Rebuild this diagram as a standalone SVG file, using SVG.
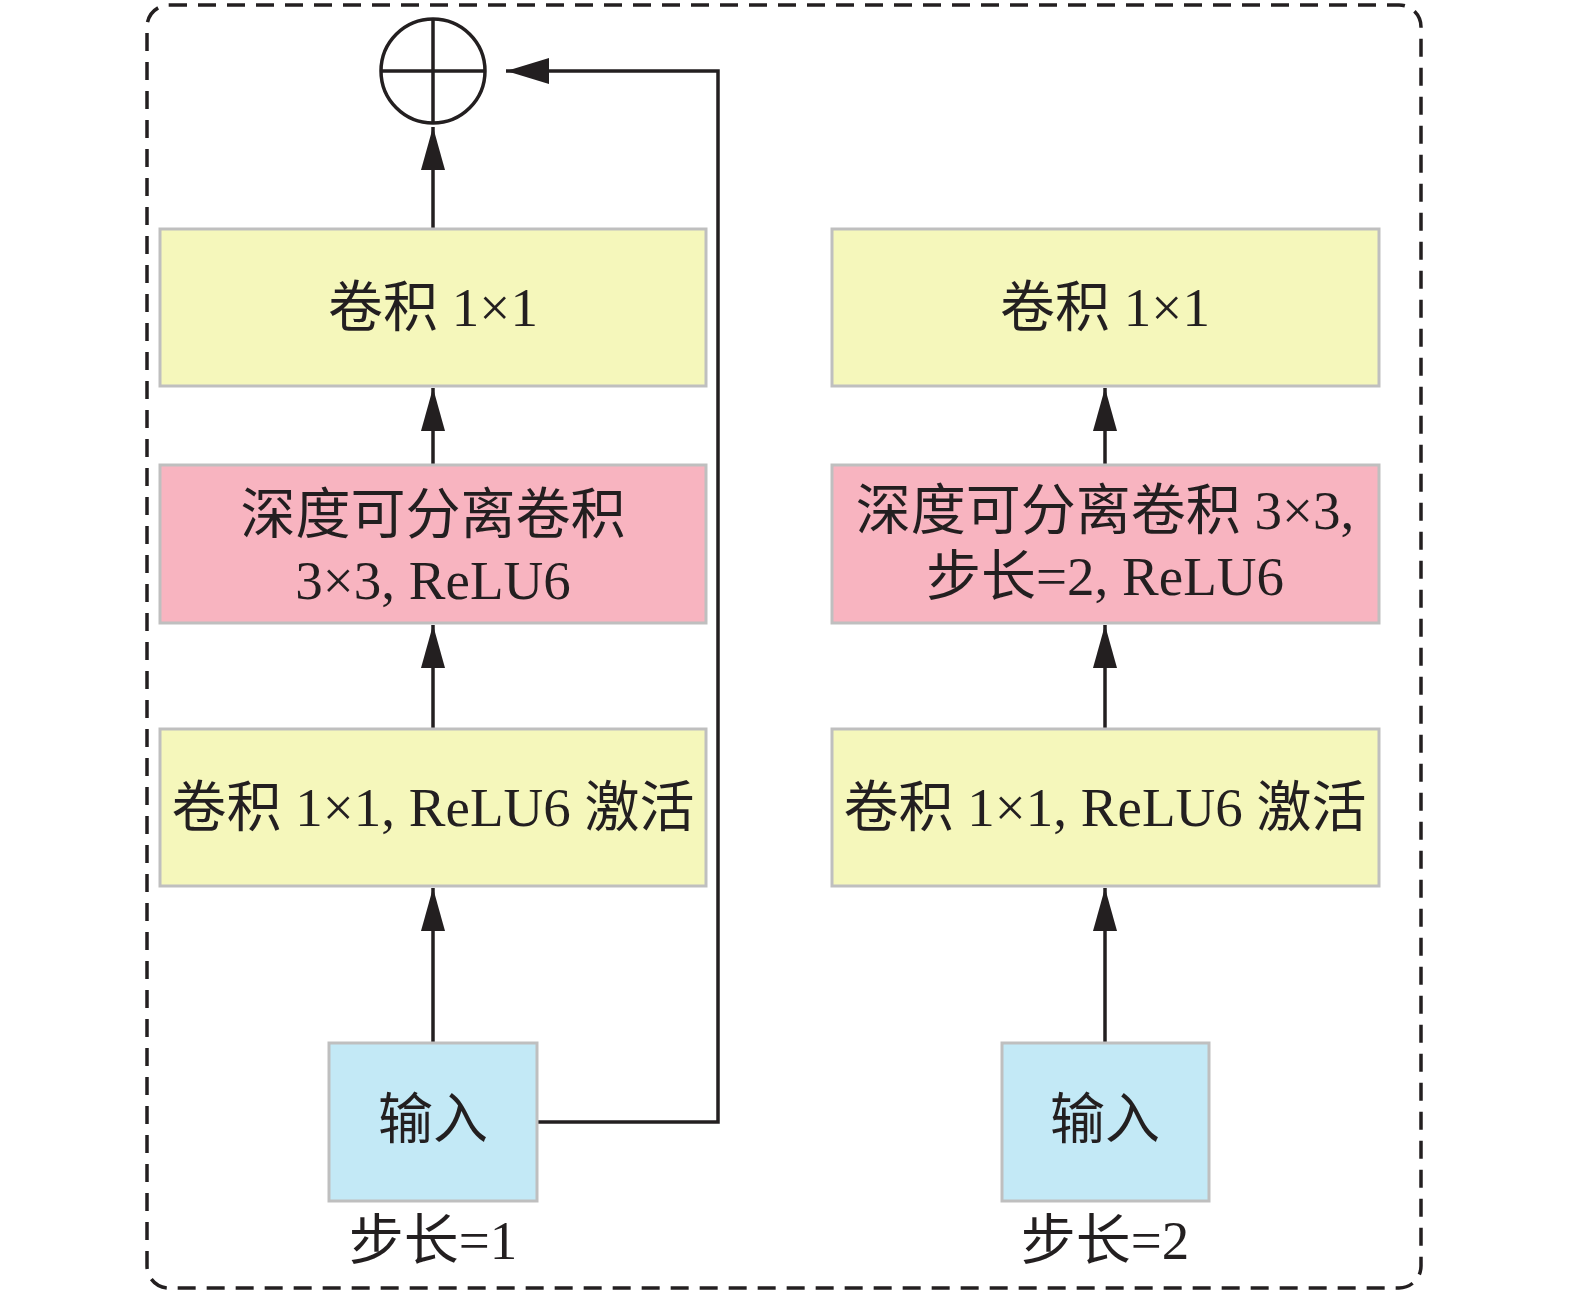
<svg xmlns="http://www.w3.org/2000/svg" width="1575" height="1298" viewBox="0 0 1575 1298">
<style>
.t{font-family:"Liberation Serif","Noto Sans CJK SC",serif;font-size:55px;fill:#231f20;text-anchor:middle}
.y{fill:#f5f7bb;stroke:#bfbfbf;stroke-width:3}
.p{fill:#f8b4c0;stroke:#bfbfbf;stroke-width:3}
.b{fill:#c3e9f6;stroke:#bfbfbf;stroke-width:3}
.c{fill:none;stroke:#231f20;stroke-width:3.5}
</style>
<defs>
<marker id="ah" markerUnits="userSpaceOnUse" markerWidth="44" markerHeight="26" refX="43" refY="13" orient="auto">
<path d="M0,0 L43,13 L0,26 Z" fill="#231f20"/>
</marker>
<marker id="ahv" markerUnits="userSpaceOnUse" markerWidth="44" markerHeight="24" refX="43" refY="12" orient="auto">
<path d="M0,0 L43,12 L0,24 Z" fill="#231f20"/>
</marker>
</defs>
<rect x="147" y="5" width="1274" height="1283" rx="22" fill="none" stroke="#231f20" stroke-width="3.5" stroke-dasharray="18 11"/>
<g id="connectors">
<path class="c" d="M433,229 V127" marker-end="url(#ahv)"/>
<path class="c" d="M433,465 V388" marker-end="url(#ahv)"/>
<path class="c" d="M433,729 V625" marker-end="url(#ahv)"/>
<path class="c" d="M433,1043 V888" marker-end="url(#ahv)"/>
<path class="c" d="M537,1122 H718 V71 H506" marker-end="url(#ah)"/>
<path class="c" d="M1105,465 V388" marker-end="url(#ahv)"/>
<path class="c" d="M1105,729 V625" marker-end="url(#ahv)"/>
<path class="c" d="M1105,1043 V888" marker-end="url(#ahv)"/>
</g>
<g id="sum">
<circle cx="433" cy="71" r="52" fill="none" stroke="#231f20" stroke-width="3.5"/>
<path d="M381,71 H485 M433,19 V123" stroke="#231f20" stroke-width="3.5"/>
</g>
<g id="l1"><rect class="y" x="160" y="229" width="546" height="157"/><text class="t" x="433" y="326">卷积 1×1</text></g>
<g id="l2"><rect class="p" x="160" y="465" width="546" height="158"/><text class="t" x="433" y="533">深度可分离卷积</text><text class="t" x="433" y="599">3×3, ReLU6</text></g>
<g id="l3"><rect class="y" x="160" y="729" width="546" height="157"/><text class="t" x="433" y="826">卷积 1×1, ReLU6 激活</text></g>
<g id="l4"><rect class="b" x="329" y="1043" width="208" height="158"/><text class="t" x="433" y="1138">输入</text></g>
<g id="l5"><text class="t" x="433" y="1259">步长=1</text></g>
<g id="r1"><rect class="y" x="832" y="229" width="547" height="157"/><text class="t" x="1105" y="326">卷积 1×1</text></g>
<g id="r2"><rect class="p" x="832" y="465" width="547" height="158"/><text class="t" x="1105" y="529">深度可分离卷积 3×3,</text><text class="t" x="1105" y="595">步长=2, ReLU6</text></g>
<g id="r3"><rect class="y" x="832" y="729" width="547" height="157"/><text class="t" x="1105" y="826">卷积 1×1, ReLU6 激活</text></g>
<g id="r4"><rect class="b" x="1002" y="1043" width="207" height="158"/><text class="t" x="1105" y="1138">输入</text></g>
<g id="r5"><text class="t" x="1105" y="1259">步长=2</text></g>
</svg>
